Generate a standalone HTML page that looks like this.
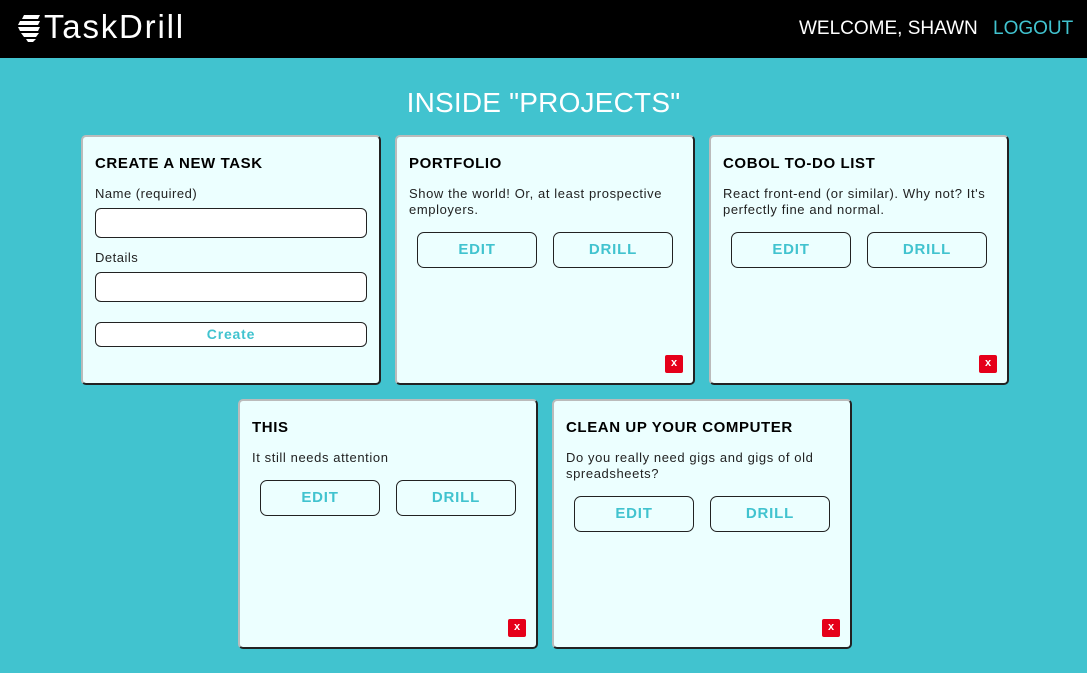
<!DOCTYPE html>
<html><head><meta charset="utf-8"><style>
*{box-sizing:border-box;margin:0;padding:0}
body{width:1087px;height:673px;background:#41c3cf;font-family:"Liberation Sans",sans-serif;position:relative;overflow:hidden}
.hdr{position:absolute;left:0;top:0;width:1087px;height:58px;background:#000}
.logo{position:absolute;left:44px;top:8px;color:#fff;font-size:33px;letter-spacing:1.8px}
.wel{position:absolute;left:799px;top:18px;color:#fff;font-size:19px}
.lo{position:absolute;left:993px;top:18px;color:#41c3cf;font-size:19px}
h1{position:absolute;left:0;width:1087px;top:87px;text-align:center;color:#fff;font-weight:normal;font-size:28px;letter-spacing:0.2px}
.card{position:absolute;width:300px;height:250px;background:#ecffff;border:2px solid;border-color:#bbb #222 #222 #bbb;border-radius:5px}
.t{position:absolute;left:12px;top:18px;font-weight:bold;font-size:15px;color:#000;letter-spacing:0.6px}
.d{position:absolute;left:12px;top:49px;width:285px;font-size:13px;line-height:16px;color:#222;letter-spacing:0.6px}
.b{position:absolute;width:120px;height:36px;border:1px solid #222;border-radius:7px;color:#41c3cf;font-size:15px;text-align:center;line-height:34px;background:#ecffff;letter-spacing:0.8px;font-weight:bold;-webkit-text-stroke:0}
.x{position:absolute;right:10px;bottom:10px;width:18px;height:18px;background:#e5001a;color:#fff;font-size:11px;font-weight:bold;text-align:center;line-height:17px;border-radius:2px}
.lab{position:absolute;left:12px;font-size:13px;color:#222;letter-spacing:0.5px}
.in{position:absolute;left:12px;width:272px;height:30px;background:#fff;border:1px solid #222;border-radius:6px}
</style></head><body>
<div class="hdr">
<svg style="position:absolute;left:16px;top:13px" width="28" height="30" viewBox="0 0 28 30"><g fill="#fff"><path d="M8 2h16l-2 4H6z"/><path d="M4 8h20l-2 4H2z"/><path d="M2 14h22l-2 4H4z"/><path d="M5 20h18l-3 4H8z"/><path d="M10 26h10l-3 3h-5z"/></g></svg>
<div class="logo">TaskDrill</div>
<div class="wel">WELCOME, SHAWN</div><div class="lo">LOGOUT</div>
</div>
<h1>INSIDE "PROJECTS"</h1>

<div class="card" style="left:81px;top:135px">
<div class="t">CREATE A NEW TASK</div>
<div class="lab" style="top:49px">Name (required)</div>
<div class="in" style="top:71px"></div>
<div class="lab" style="top:113px">Details</div>
<div class="in" style="top:135px"></div>
<div class="b" style="left:12px;top:185px;width:272px;height:25px;line-height:23px;font-size:14px;border-radius:6px;background:#fff">Create</div>
</div>

<div class="card" style="left:395px;top:135px">
<div class="t">PORTFOLIO</div>
<div class="d">Show the world! Or, at least prospective employers.</div>
<div class="b" style="left:20px;top:95px">EDIT</div><div class="b" style="left:156px;top:95px">DRILL</div>
<div class="x">x</div></div>

<div class="card" style="left:709px;top:135px">
<div class="t">COBOL TO-DO LIST</div>
<div class="d">React front-end (or similar). Why not? It's perfectly fine and normal.</div>
<div class="b" style="left:20px;top:95px">EDIT</div><div class="b" style="left:156px;top:95px">DRILL</div>
<div class="x">x</div></div>

<div class="card" style="left:238px;top:399px">
<div class="t">THIS</div>
<div class="d">It still needs attention</div>
<div class="b" style="left:20px;top:79px">EDIT</div><div class="b" style="left:156px;top:79px">DRILL</div>
<div class="x">x</div></div>

<div class="card" style="left:552px;top:399px">
<div class="t">CLEAN UP YOUR COMPUTER</div>
<div class="d">Do you really need gigs and gigs of old spreadsheets?</div>
<div class="b" style="left:20px;top:95px">EDIT</div><div class="b" style="left:156px;top:95px">DRILL</div>
<div class="x">x</div></div>
</body></html>
